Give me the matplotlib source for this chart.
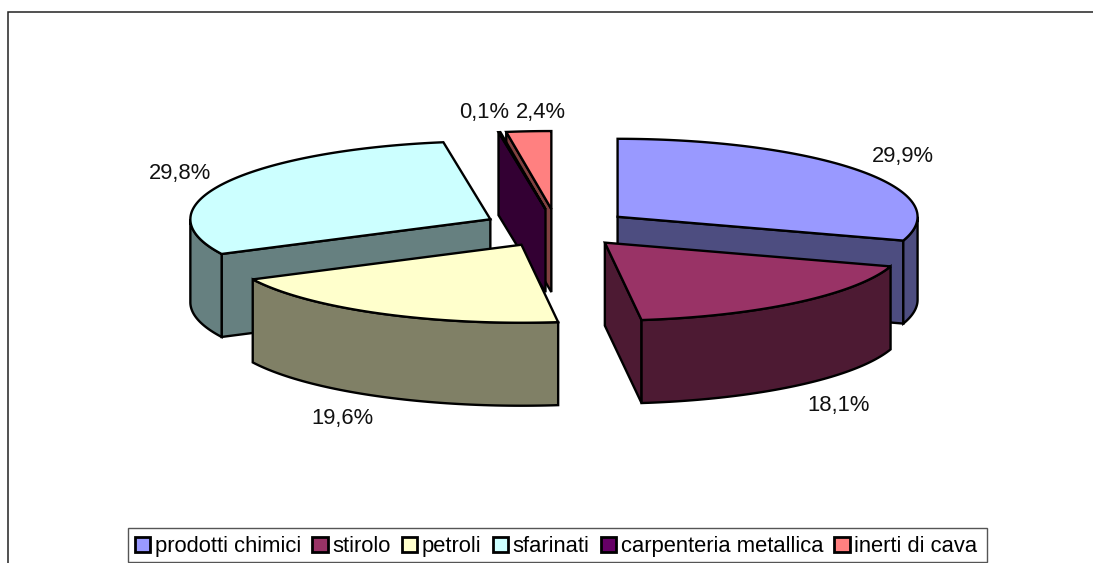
import matplotlib
matplotlib.use("Agg")
import matplotlib.pyplot as plt
import numpy as np
from matplotlib.patches import Patch, Polygon, Rectangle

CATEGORIES = ["prodotti chimici", "stirolo", "petroli", "sfarinati",
              "carpenteria metallica", "inerti di cava"]
VALUES = [29.9, 18.1, 19.6, 29.8, 0.1, 2.4]
COLORS = ["#9999FF", "#993366", "#FFFFCC", "#CCFFFF", "#660066", "#FF8080"]
WALLS = ["#4D4D80", "#4D1A33", "#808066", "#668080", "#330033", "#804040"]
DRAW_ORDER = [0, 3, 5, 4, 2, 1]  # back to front

# pie layout, in pixels
CX, CY = 557, 228
RX, RY = 300, 78
EX, EY = 75, 19
DEPTH = 83
LW = 1.7
LABEL_POS = [(903, 156.5), (839, 405.5), (342, 418.5), (180, 173.5), (484, 112.5), (541, 112.5)]

plt.rcParams["font.family"] = ["Liberation Sans", "DejaVu Sans"]

fig = plt.figure(figsize=(10.93, 5.63), dpi=100)
ax = fig.add_axes([0, 0, 1, 1])
ax.set_xlim(0, 1093)
ax.set_ylim(563, 0)
ax.axis("off")

ax.add_patch(Rectangle((7.5, 11.5), 2000, 2000, fc="white", ec="#222222", lw=1.1))


def rim(ox, oy, deg, dy=0):
    t = np.radians(deg)
    return np.column_stack([ox + RX * np.sin(t), oy - RY * np.cos(t) + dy])


def draw_slice(i, a0, a1):
    mid = np.radians((a0 + a1) / 2)
    ox, oy = CX + EX * np.sin(mid), CY - EY * np.cos(mid)
    style = dict(ec="black", lw=LW, joinstyle="miter")

    # cut faces, only the ones turned towards the viewer
    for deg, show in ((a0, np.sin(np.radians(a0)) < -1e-6), (a1, np.sin(np.radians(a1)) > 1e-6)):
        if show:
            p = rim(ox, oy, np.array([deg]))[0]
            ax.add_patch(Polygon([(ox, oy), p, (p[0], p[1] + DEPTH), (ox, oy + DEPTH)],
                                 fc=WALLS[i], **style))

    # outer wall
    lo, hi = max(a0, 90), min(a1, 270)
    if hi > lo:
        t = np.linspace(lo, hi, 60)
        pts = np.vstack([rim(ox, oy, t), rim(ox, oy, t[::-1], DEPTH)])
        ax.add_patch(Polygon(pts, fc=WALLS[i], **style))

    # top
    t = np.linspace(a0, a1, 120)
    ax.add_patch(Polygon(np.vstack([[ox, oy], rim(ox, oy, t)]), fc=COLORS[i], **style))


edges = np.concatenate([[0], np.cumsum(VALUES)]) / sum(VALUES) * 360
for i in DRAW_ORDER:
    draw_slice(i, edges[i], edges[i + 1])

for val, (x, y) in zip(VALUES, LABEL_POS):
    ax.text(x, y, f"{val:.1f}%".replace(".", ","), ha="center", va="center",
            fontsize=15.8, color="#111111")

# legend box is drawn apart, its width does not follow the text
ax.add_patch(Rectangle((128, 528), 859, 34, fc="white", ec="#555555", lw=1.0))
handles = [Patch(fc=c, ec="black", lw=2.0) for c in COLORS]
ax.legend(handles, CATEGORIES, ncol=6, loc="lower left",
          bbox_to_anchor=(128, 564), bbox_transform=ax.transData,
          fontsize=15.8, frameon=False, borderaxespad=0, borderpad=0.32,
          handlelength=0.7, handleheight=0.7, handletextpad=0.2, columnspacing=0.52)

fig.savefig("out.png", dpi=100)
